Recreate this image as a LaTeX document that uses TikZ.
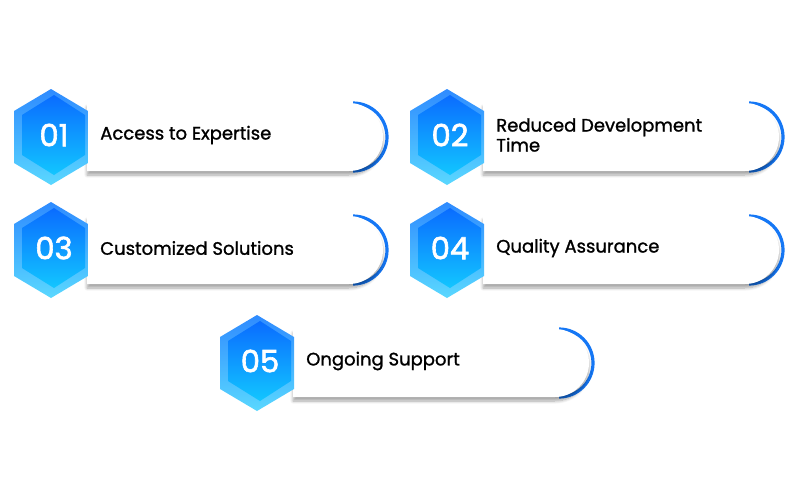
\documentclass[tikz,border=0pt]{standalone}
\usepackage{fontspec}
\setmainfont{Poppins}
\newfontfamily\medfont{Poppins}[FakeBold=1.2]
\newfontfamily\numfont{Poppins}[FakeBold=2]
\usetikzlibrary{shadows.blur}
\definecolor{hexA}{HTML}{0A6CFF}
\definecolor{hexB}{HTML}{12C6FF}
\definecolor{ringA}{HTML}{2F8BFF}
\definecolor{ringB}{HTML}{5AD8FF}
\definecolor{arcblue}{HTML}{1577F5}
\tikzset{
  pill/.style={fill=white, blur shadow={shadow xshift=0pt, shadow yshift=-3pt, shadow blur steps=8, shadow opacity=35}},
  lbl/.style={anchor=west, align=left, font=\medfont\fontsize{13.5}{15}\selectfont, text=black, inner sep=0pt},
  num/.style={font=\numfont\fontsize{23}{25}\selectfont, text=white, inner sep=0pt}
}
\newcommand\hexitem[4]{%
  \begin{scope}[shift={(#1,#2)}]
    \draw[arcblue, line width=2.4pt] (302,-34) arc (-90:90:34);
    \path[pill] (36,-34) -- (298,-34) arc (-90:90:34) -- (36,34) -- cycle;
    \shade[shading angle=20, top color=ringA, bottom color=ringB]
      (0,-48) -- (37,-26) -- (37,26) -- (0,48) -- (-37,26) -- (-37,-26) -- cycle;
    \shade[shading angle=-30, top color=hexA, bottom color=hexB]
      (3,-42) -- (34,-22) -- (34,18) -- (3,38) -- (-29,18) -- (-29,-22) -- cycle;
    \node[num] (n#3) at (3,-2) {#3};
    \node[lbl] (t#3) at (49,-2) {#4};
  \end{scope}}
\begin{document}
\begin{tikzpicture}[x=0.75pt,y=-0.75pt]
\path[use as bounding box] (0,0) rectangle (800,500);
\hexitem{51}{137}{01}{Access to Expertise}
\hexitem{447}{137}{02}{Reduced Development\\Time}
\hexitem{51}{250}{03}{Customized Solutions}
\hexitem{447}{250}{04}{Quality Assurance}
\hexitem{257}{363}{05}{Ongoing Support}
\end{tikzpicture}
\end{document}
